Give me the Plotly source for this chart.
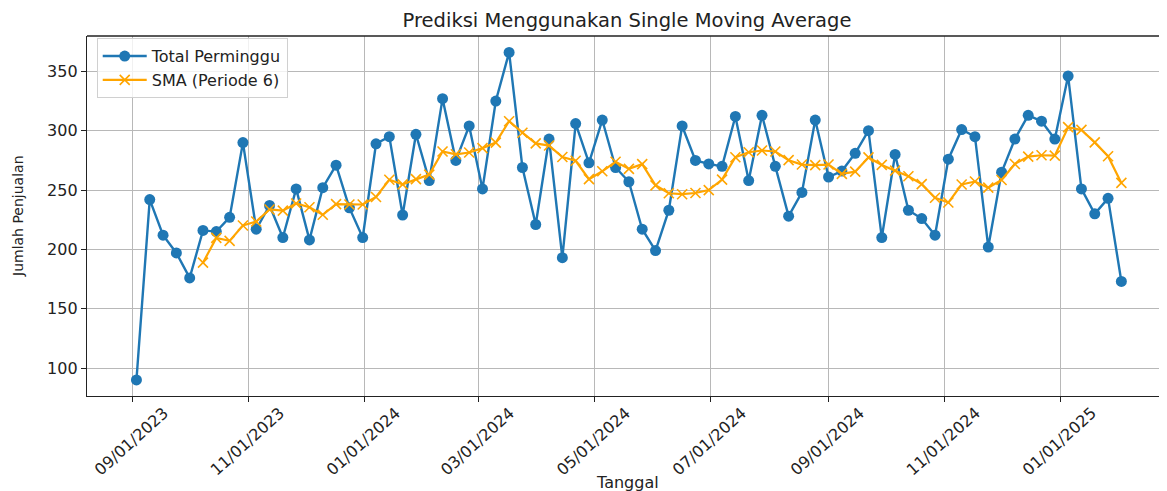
import pandas as pd
import plotly.graph_objects as go

start_date = "2023-09-03"
n_weeks = 75
dates = pd.date_range(start_date, periods=n_weeks, freq="7D")

total_perminggu = [
    90, 242, 212, 197, 176, 216, 215, 227, 290, 217,
    237, 210, 251, 208, 252, 271, 235, 210, 289, 295,
    229, 297, 258, 327, 275, 304, 251, 325, 366, 269,
    221, 293, 193, 306, 273, 309, 269, 257, 217, 199,
    233, 304, 275, 272, 270, 312, 258, 313, 270, 228,
    248, 309, 261, 266, 281, 300, 210, 280, 233, 226,
    212, 276, 301, 295, 202, 265, 293, 313, 308, 293,
    346, 251, 230, 243, 173,
]

sma_periode_6 = [
    None, None, None, None, None, 188.83, 209.67, 207.17, 220.17, 223.5,
    233.67, 232.67, 238.67, 235.5, 229.17, 238.17, 237.83, 237.83, 244.17, 258.67,
    254.83, 259.17, 263.0, 282.5, 280.17, 281.67, 285.33, 290.0, 308.0, 298.33,
    289.33, 287.5, 277.83, 274.67, 259.17, 265.83, 273.83, 267.83, 271.83, 254.0,
    247.33, 246.5, 247.5, 250.0, 258.83, 277.67, 281.83, 283.33, 282.5, 275.17,
    271.5, 271.0, 271.5, 263.67, 265.5, 277.5, 271.17, 266.33, 261.67, 255.0,
    243.5, 239.5, 254.67, 257.17, 252.0, 258.5, 272.0, 278.17, 279.33, 279.0,
    303.0, 300.67, 290.17, 278.5, 256.0,
]

x_tick_dates = ["2023-09-01", "2023-11-01", "2024-01-01", "2024-03-01", "2024-05-01",
                "2024-07-01", "2024-09-01", "2024-11-01", "2025-01-01"]
x_tick_labels = ["09/01/2023", "11/01/2023", "01/01/2024", "03/01/2024", "05/01/2024",
                 "07/01/2024", "09/01/2024", "11/01/2024", "01/01/2025"]
y_ticks = [100, 150, 200, 250, 300, 350]

font = "DejaVu Sans"
ink = "#222222"

# page body has an 8px default margin; figure is sized to fill the rest
W, H = 1159, 483
ML, MT, MB = 79, 28, 95
plot_h = H - MT - MB
plot_w = W - ML

fig = go.Figure()
fig.add_trace(go.Scatter(
    x=dates, y=total_perminggu, mode="lines+markers", name="Total Perminggu",
    line=dict(color="#1f77b4", width=2.4),
    marker=dict(symbol="circle", size=11, color="#1f77b4"),
))
fig.add_trace(go.Scatter(
    x=dates, y=sma_periode_6, mode="lines+markers", name="SMA (Periode 6)",
    line=dict(color="orange", width=2.2),
    marker=dict(symbol="x-thin", size=10, color="orange",
                line=dict(color="orange", width=1.6)),
))

fig.update_layout(
    width=W, height=H,
    margin=dict(l=ML, r=0, t=MT, b=MB, autoexpand=False),
    paper_bgcolor="white", plot_bgcolor="white",
    font=dict(family=font, size=16, color=ink),
    showlegend=True,
    legend=dict(x=0.009, y=0.994, xanchor="left", yanchor="top",
                bordercolor="#d0d0d0", borderwidth=1, bgcolor="rgba(255,255,255,0.8)",
                font=dict(family=font, size=16, color=ink),
                tracegroupgap=0, itemwidth=44),
    title=dict(text="Prediksi Menggunakan Single Moving Average",
               x=0.5, xref="paper", y=1 - 12 / H, yref="container",
               xanchor="center", yanchor="middle",
               font=dict(family=font, size=19.5, color=ink)),
)

fig.update_xaxes(
    range=["2023-08-08", "2025-02-26"],
    type="date", tickvals=x_tick_dates, showticklabels=False,
    ticks="outside", ticklen=5, tickcolor=ink,
    showgrid=True, gridcolor="#b8b8b8", gridwidth=1,
    showline=True, linecolor=ink, linewidth=1.3, mirror=False,
    zeroline=False, automargin=False,
)
fig.update_yaxes(
    range=[76.5, 379.8], tickvals=y_ticks,
    ticks="outside", ticklen=5, tickcolor=ink,
    showgrid=True, gridcolor="#b8b8b8", gridwidth=1,
    showline=True, linecolor=ink, linewidth=1.3, mirror=False,
    zeroline=False, automargin=False,
    tickfont=dict(family=font, size=16, color=ink),
)

# rotated date labels centred under their ticks
for d, lab in zip(x_tick_dates, x_tick_labels):
    fig.add_annotation(text=lab, x=d, xref="x", y=-45 / plot_h, yref="paper",
                       xanchor="center", yanchor="middle", textangle=-42,
                       showarrow=False, xshift=-1.5,
                       font=dict(family=font, size=16, color=ink))

# top spine
fig.add_shape(type="line", xref="paper", yref="paper", x0=0, x1=1, y0=1, y1=1,
              line=dict(color=ink, width=1.3))

fig.add_annotation(text="Tanggal", xref="paper", yref="paper",
                   x=0.5, y=-86 / plot_h, xanchor="center", yanchor="middle",
                   showarrow=False, font=dict(family=font, size=16, color=ink))
fig.add_annotation(text="Jumlah Penjualan", xref="paper", yref="paper",
                   x=-69 / plot_w, y=0.5, xanchor="center", yanchor="middle",
                   textangle=-90, showarrow=False,
                   font=dict(family=font, size=14, color=ink))

fig.write_html("out.html")
